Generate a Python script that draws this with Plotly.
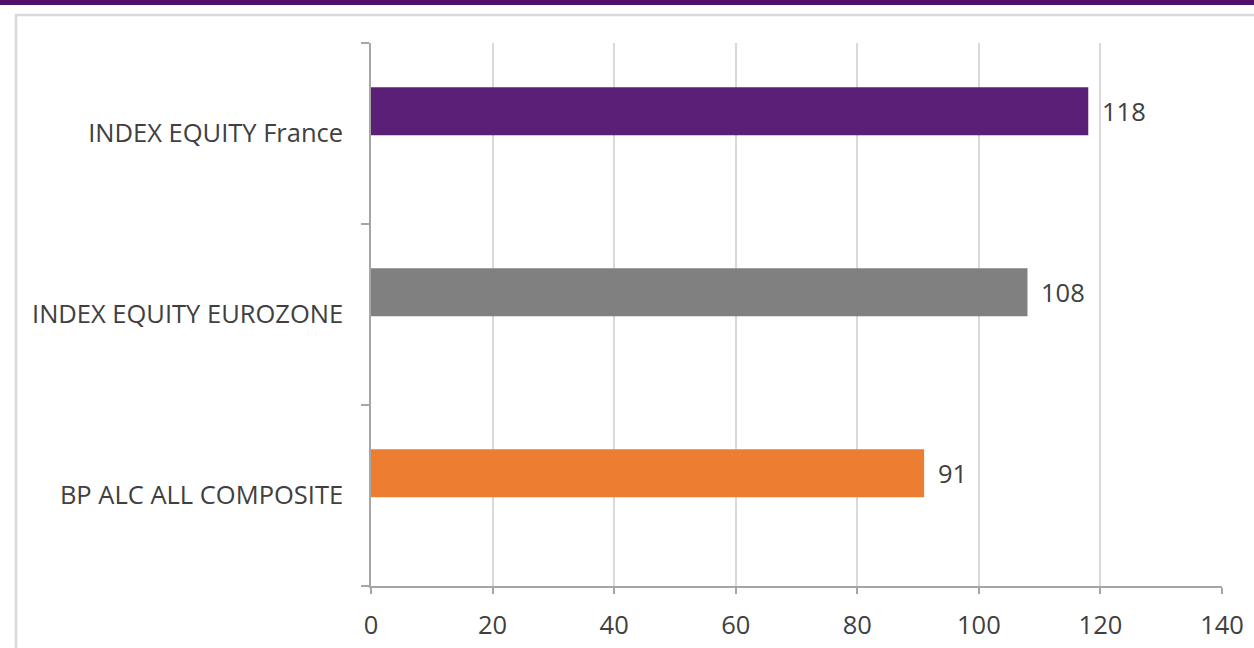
import plotly.graph_objects as go

categories = ["BP ALC ALL COMPOSITE", "INDEX EQUITY EUROZONE", "INDEX EQUITY France"]
values = [91, 108, 118]
colors = ["#ED7D31", "#808080", "#5B1F78"]
x_ticks = [0, 20, 40, 60, 80, 100, 120, 140]

W, H = 1254, 648
ml, mr, mt, mb = 371, 32, 43, 62
pw, ph = W - ml - mr, H - mt - mb

def px_x(p):
    return (p - ml) / pw

def px_y(p):
    return (H - mb - p) / ph

BAR_W, BAR_OFF = 0.265, -0.01
cat_px = ph / len(categories)

fig = go.Figure()
fig.add_trace(go.Bar(
    y=categories, x=values, orientation="h",
    marker=dict(color=colors, line=dict(width=0)),
    width=BAR_W, offset=BAR_OFF,
    hoverinfo="x+y",
))

font = dict(family="Open Sans", size=25.5, color="#404040")

annotations = [
    dict(x=v, y=c, xref="x", yref="y", text=str(v), showarrow=False,
         xanchor="left", yanchor="middle", xshift=12,
         yshift=(BAR_OFF + BAR_W / 2) * cat_px, font=font)
    for c, v in zip(categories, values)
]

fig.update_layout(
    width=W, height=H,
    margin=dict(l=ml, r=mr, t=mt, b=mb, autoexpand=False),
    paper_bgcolor="white", plot_bgcolor="white",
    showlegend=False,
    font=font,
    annotations=annotations,
    xaxis=dict(
        range=[0, 140], tickvals=x_ticks, ticktext=[str(t) for t in x_ticks],
        showgrid=True, gridcolor="#d9d9d9", gridwidth=1.5,
        showline=True, linecolor="#a6a6a6", linewidth=1.5,
        ticks="outside", ticklen=6, tickcolor="#a6a6a6", tickwidth=1.5,
        tickfont=font, ticklabelstandoff=10, zeroline=False,
    ),
    yaxis=dict(
        type="category", categoryorder="array", categoryarray=categories,
        range=[-0.5, 2.5], tickson="boundaries",
        showgrid=False, showline=True, linecolor="#a6a6a6", linewidth=1.5,
        ticks="outside", ticklen=8, tickcolor="#a6a6a6", tickwidth=1.5,
        tickfont=font, ticklabelstandoff=21,
    ),
    shapes=[
        dict(type="rect", xref="paper", yref="paper",
             x0=px_x(-5), x1=px_x(W + 5), y0=px_y(5), y1=px_y(-5),
             fillcolor="#4F1068", line=dict(width=0), layer="above"),
        dict(type="rect", xref="paper", yref="paper",
             x0=px_x(16), x1=px_x(W + 20), y0=px_y(H + 20), y1=px_y(15),
             fillcolor="rgba(0,0,0,0)", line=dict(color="#d9d9d9", width=2.5),
             layer="below"),
    ],
)

fig.write_html("out.html", config={"displayModeBar": False},
               post_script="document.body.style.margin='0px';document.body.style.overflow='hidden';")
